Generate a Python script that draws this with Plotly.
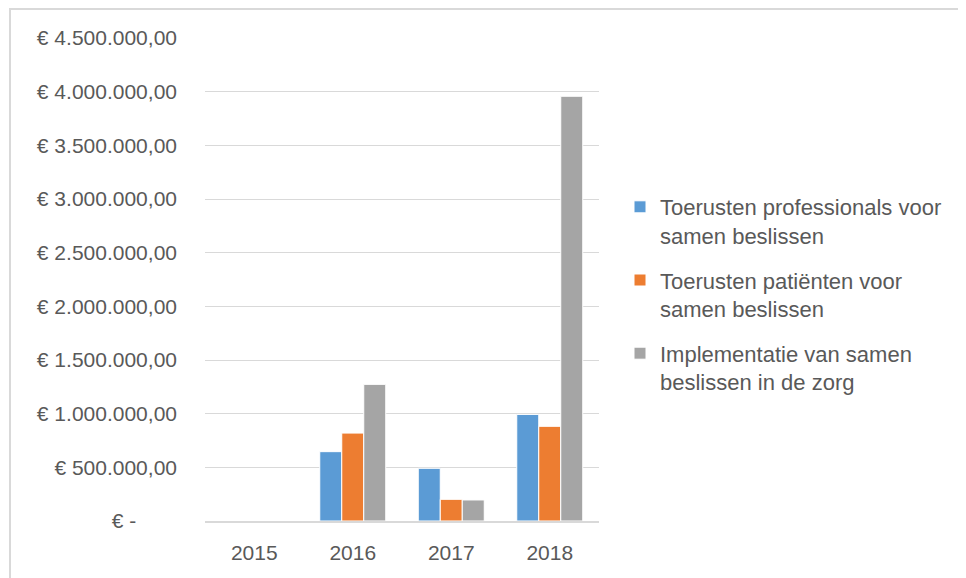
import plotly.graph_objects as go

years = ["2015", "2016", "2017", "2018"]
series_names = [
    "Toerusten professionals voor<br>samen beslissen",
    "Toerusten patiënten voor<br>samen beslissen",
    "Implementatie van samen<br>beslissen in de zorg",
]
professionals = [0, 646000, 491000, 993000]
patienten = [0, 819000, 202000, 882000]
implementatie = [0, 1273000, 196000, 3957000]
colors = ["#5B9BD5", "#ED7D31", "#A5A5A5"]

y_tickvals = [0, 500000, 1000000, 1500000, 2000000, 2500000, 3000000, 3500000, 4000000, 4500000]
y_ticktext = ["€ -       ", "€ 500.000,00", "€ 1.000.000,00", "€ 1.500.000,00", "€ 2.000.000,00",
              "€ 2.500.000,00", "€ 3.000.000,00", "€ 3.500.000,00", "€ 4.000.000,00", "€ 4.500.000,00"]

fig = go.Figure()
for i, (name, vals, col) in enumerate(zip(series_names, [professionals, patienten, implementatie], colors)):
    fig.add_trace(go.Bar(x=years, y=vals, name=name, legendgroup=f"g{i}",
                         marker=dict(color=col, line=dict(color="white", width=1))))

# page has an 8px body margin; compensate
OFF = 8
W, H = 966 - OFF, 578 - OFF
L, T = 205 - OFF, 38 - OFF
R = W - (599 - OFF)
B = H - (521 - OFF)
pw = W - L - R
ph = H - T - B

def px_x(x):
    return (x - OFF - L) / pw

def px_y(y):
    return (H - B - (y - OFF)) / ph

fig.update_layout(
    width=W, height=H,
    margin=dict(l=L, r=R, t=T, b=B),
    paper_bgcolor="white", plot_bgcolor="white",
    barmode="group", bargap=0.33, bargroupgap=0,
    font=dict(family="Liberation Sans, Arial, sans-serif", size=21, color="#595959"),
    showlegend=True,
    legend=dict(x=px_x(620), y=px_y(186), xanchor="left", yanchor="top", valign="top",
                font=dict(size=22, color="#595959"), tracegroupgap=13, itemwidth=30,
                bgcolor="rgba(0,0,0,0)"),
    xaxis=dict(showgrid=False, showline=True, linecolor="#d9d9d9", linewidth=2,
               ticks="", tickfont=dict(size=21), ticklabelstandoff=12),
    yaxis=dict(range=[0, 4500000], tickvals=y_tickvals, ticktext=y_ticktext,
               showgrid=True, gridcolor="#d9d9d9", gridwidth=1, zeroline=False,
               showline=False, ticks="", tickfont=dict(size=21), ticklabelstandoff=27),
    shapes=[dict(type="rect", xref="paper", yref="paper",
                 x0=px_x(10), x1=px_x(1000), y0=px_y(600), y1=px_y(9),
                 line=dict(color="#d9d9d9", width=2), fillcolor="rgba(0,0,0,0)", layer="below")],
)

fig.write_html("out.html")
